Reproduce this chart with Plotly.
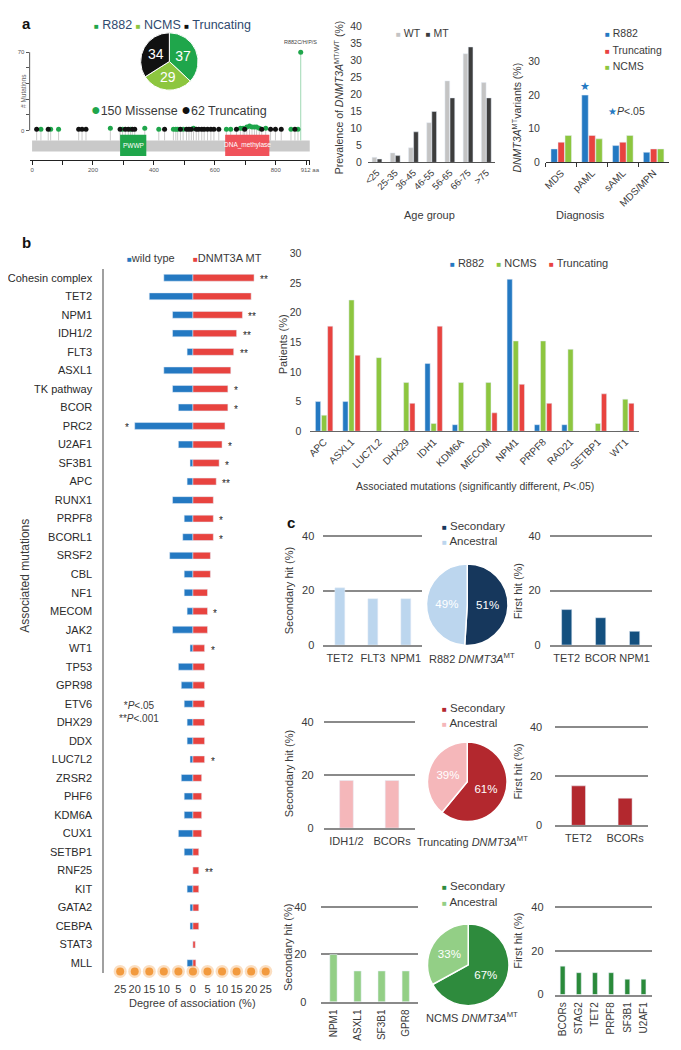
import plotly.graph_objects as go

# the page puts the figure 8 px in from the top-left corner, so the figure is sized to fit
OFF = 8
W, H = 681 - OFF, 1050 - OFF
FONT = "Liberation Sans, Arial, sans-serif"
TXT = "#3a3a3a"

# ---------------- data ----------------
# a: DNMT3A lollipop (amino-acid position, type, count)
lolli_pos = [15, 29, 53, 61, 87, 153, 164, 177, 257, 289, 297, 306, 316, 323, 329, 337, 370,
             416, 435, 464, 472, 478, 487, 496, 507, 515, 523, 530, 539, 547, 557, 565, 576,
             587, 597, 613, 638, 652, 671, 684, 693, 698, 705, 714, 722, 730, 737, 746, 754,
             767, 783, 799, 818, 850, 863, 873]
lolli_type = ["T", "M", "T", "M", "M", "T", "T", "T", "M", "T", "M", "T", "T", "M", "T", "T", "M",
              "M", "T", "M", "M", "M", "T", "M", "T", "T", "T", "M", "T", "T", "T", "T", "T",
              "T", "T", "T", "M", "M", "T", "M", "M", "T", "M", "M", "M", "M", "M", "M", "T",
              "M", "T", "T", "T", "M", "T", "M"]
lolli_count = [1, 1, 1, 1, 1, 1, 1, 1, 2, 1, 1, 1, 1, 1, 1, 1, 2,
               1, 1, 1, 1, 1, 1, 1, 1, 1, 1, 2, 1, 1, 1, 1, 1,
               1, 1, 1, 1, 1, 1, 2, 2, 1, 3, 4, 3, 3, 3, 2, 1,
               2, 1, 1, 1, 1, 1, 1]
r882_pos, r882_count = 882, 70
protein_len = 912
domain_names = ["PWWP", "DNA_methylase"]
domain_start = [289, 634]
domain_end = [375, 779]

pie_a_labels = ["R882", "NCMS", "Truncating"]
pie_a_values = [37, 29, 34]

age_groups = ["<25", "25-35", "36-45", "46-55", "56-65", "66-75", ">75"]
age_wt = [1.5, 2.8, 4.3, 11.7, 24.0, 32.0, 23.5]
age_mt = [1.0, 2.0, 9.0, 15.0, 19.0, 34.0, 19.0]

diagnoses = ["MDS", "pAML", "sAML", "MDS/MPN"]
diag_r882 = [4, 20, 5, 3]
diag_trunc = [6, 8, 6, 4]
diag_ncms = [8, 7, 8, 4]

# b: associated mutations, wild type vs DNMT3A MT (%)
assoc_genes = ["Cohesin complex", "TET2", "NPM1", "IDH1/2", "FLT3", "ASXL1", "TK pathway", "BCOR",
               "PRC2", "U2AF1", "SF3B1", "APC", "RUNX1", "PRPF8", "BCORL1", "SRSF2", "CBL", "NF1",
               "MECOM", "JAK2", "WT1", "TP53", "GPR98", "ETV6", "DHX29", "DDX", "LUC7L2", "ZRSR2",
               "PHF6", "KDM6A", "CUX1", "SETBP1", "RNF25", "KIT", "GATA2", "CEBPA", "STAT3", "MLL"]
assoc_wt = [10, 15, 7, 7, 2, 10, 7, 5, 20, 5, 1, 2, 7, 3, 3.5, 8, 3, 3, 2, 7, 1, 5, 4, 3, 2, 2, 1,
            4, 3, 3, 5, 3, 0, 2, 1, 1, 0, 2]
assoc_mt = [21, 20, 17, 15, 14, 13, 12, 12, 11, 10, 9, 8, 7, 7, 7, 6, 6, 5, 5, 5, 4, 4, 4, 4, 4, 4, 4,
            3, 3, 3, 3, 2, 2, 2, 2, 2, 0.8, 1]
assoc_sig = ["**", "", "**", "**", "**", "", "*", "*", "*", "*", "*", "**", "", "*", "*", "", "", "",
             "*", "", "*", "", "", "", "", "", "*", "", "", "", "", "", "**", "", "", "", "", ""]
degree_ticks = [-25, -20, -15, -10, -5, 0, 5, 10, 15, 20, 25]

sig_genes = ["APC", "ASXL1", "LUC7L2", "DHX29", "IDH1", "KDM6A", "MECOM", "NPM1", "PRPF8",
             "RAD21", "SETBP1", "WT1"]
sig_r882 = [5, 5, 0, 0, 11.4, 1.1, 0, 25.6, 1.1, 1.1, 0, 0]
sig_ncms = [2.7, 22.1, 12.4, 8.2, 1.3, 8.2, 8.2, 15.2, 15.2, 13.8, 1.3, 5.4]
sig_trunc = [17.7, 12.8, 0, 4.7, 17.7, 0, 3.1, 7.9, 4.7, 0, 6.3, 4.7]

# c: clonal hierarchy
r882_sec_genes, r882_sec = ["TET2", "FLT3", "NPM1"], [21, 17, 17]
r882_first_genes, r882_first = ["TET2", "BCOR", "NPM1"], [13, 10, 5]
r882_pie = [51, 49]
trunc_sec_genes, trunc_sec = ["IDH1/2", "BCORs"], [18, 18]
trunc_first_genes, trunc_first = ["TET2", "BCORs"], [16, 11]
trunc_pie = [61, 39]
ncms_sec_genes, ncms_sec = ["NPM1", "ASXL1", "SF3B1", "GPR8"], [20, 13, 13, 13]
ncms_first_genes, ncms_first = ["BCORs", "STAG2", "TET2", "PRPF8", "SF3B1", "U2AF1"], [13, 10, 10, 10, 7, 7]
ncms_pie = [67, 33]
clone_labels = ["Secondary", "Ancestral"]

# colours
G_R882 = "#1fa64b"
G_NCMS = "#8dc63f"
BLUE = "#2479c2"
RED = "#e8433f"
GRID = "#8a8a8a"


# page pixel -> paper fraction
def X(p):
    return (p - OFF) / W


def Y(p):
    return 1 - (p - OFF) / H


ann = []
shapes = []
axes = {}


def note(x, y, text, size=11, color=TXT, xanchor="center", yanchor="middle", angle=0):
    ann.append(dict(x=X(x), y=Y(y), xref="paper", yref="paper", text=text, showarrow=False,
                    font=dict(size=size, color=color, family=FONT), xanchor=xanchor,
                    yanchor=yanchor, textangle=angle))


def sq(color, size=8, sym="■"):
    return f'<span style="color:{color};font-size:{size}px">{sym}</span>'


fig = go.Figure()

# ---------------- a: lollipop ----------------
bar_lo, bar_hi = -18.9, -9.1
stem_x, stem_y = [], []
for p, c in zip(lolli_pos, lolli_count):
    stem_x += [p, p, None]
    stem_y += [bar_hi, c, None]
fig.add_trace(go.Scatter(x=stem_x, y=stem_y, mode="lines", line=dict(color="#bdbdbd", width=0.8),
                         xaxis="x", yaxis="y", hoverinfo="skip"))
fig.add_trace(go.Scatter(x=[r882_pos, r882_pos], y=[bar_hi, r882_count], mode="lines",
                         line=dict(color="#86cfa0", width=0.8), xaxis="x", yaxis="y"))
for kind, col in (("M", G_R882), ("T", "#111111")):
    xs = [p for p, t in zip(lolli_pos, lolli_type) if t == kind]
    ys = [c for c, t in zip(lolli_count, lolli_type) if t == kind]
    fig.add_trace(go.Scatter(x=xs, y=ys, mode="markers", marker=dict(color=col, size=5),
                             xaxis="x", yaxis="y"))
fig.add_trace(go.Scatter(x=[r882_pos], y=[r882_count], mode="markers",
                         marker=dict(color=G_R882, size=5), xaxis="x", yaxis="y"))
ann.append(dict(x=r882_pos, y=r882_count, xref="x", yref="y", yshift=10, text="R882C/H/P/S",
                showarrow=False, font=dict(size=5.5, color="#444", family=FONT)))

shapes.append(dict(type="rect", xref="x", yref="y", x0=0, x1=protein_len, y0=bar_lo, y1=bar_hi,
                   fillcolor="#c9c9c9", line=dict(width=0)))
for name, s, e, col in zip(domain_names, domain_start, domain_end, [G_R882, "#f0525a"]):
    shapes.append(dict(type="rect", xref="x", yref="y", x0=s, x1=e, y0=-23, y1=-3.8,
                       fillcolor=col, line=dict(width=0)))
    ann.append(dict(x=(s + e) / 2, y=-13.4, xref="x", yref="y", text=name, showarrow=False,
                    font=dict(size=6.5, color="white", family=FONT)))
shapes.append(dict(type="line", xref="paper", yref="y", x0=X(20), x1=X(20), y0=0, y1=70,
                   line=dict(color="#555", width=1)))

axes["xaxis"] = dict(domain=[X(20), X(308.8)], range=[-8, protein_len], anchor="y",
                     showline=True, linecolor="#222", linewidth=1, ticks="outside", ticklen=4,
                     tickcolor="#222", tickvals=list(range(0, 1000, 100)) + [protein_len],
                     ticktext=["0", "", "200", "", "400", "", "600", "", "800", "", "912 aa"],
                     tickfont=dict(size=6, color="#555"), showgrid=False, zeroline=False)
axes["yaxis"] = dict(domain=[Y(156.7), Y(40)], range=[-26.6, 76.8], anchor="x", showline=False,
                     ticks="outside", ticklen=3, tickcolor="#555",
                     tickvals=[0, 14, 28, 42, 56, 70], ticktext=["0", "", "", "", "", "70"],
                     tickfont=dict(size=6, color="#555"), showgrid=False, zeroline=False)

fig.add_trace(go.Pie(labels=pie_a_labels, values=pie_a_values, sort=False, direction="clockwise",
                     rotation=0, texttemplate="%{value}", textposition="inside",
                     insidetextorientation="horizontal",
                     textfont=dict(size=14, color="white", family=FONT),
                     marker=dict(colors=[G_R882, G_NCMS, "#111111"], line=dict(color="white", width=1)),
                     domain=dict(x=[X(134), X(194)], y=[Y(86), Y(28)])))

note(10, 8, "<b>a</b>", size=15, color="#111", xanchor="left", yanchor="top")
note(13, 87, "# Mutations", size=6.5, color="#666", angle=-90)
note(167, 20, f'{sq(G_R882)} R882 {sq(G_NCMS)} NCMS {sq("#111")} Truncating', size=12.5,
     color="#2f4a6e")
note(174, 106, f'{sq(G_R882, 16, "●")}150 Missense {sq("#111", 16, "●")}62 Truncating', size=12.5)

# ---------------- a: age groups ----------------
for vals, col, off in ((age_wt, "#c4c4c4", -0.27), (age_mt, "#3d3d3d", 0.01)):
    fig.add_trace(go.Bar(x=age_groups, y=vals, marker_color=col, width=0.26, offset=off,
                         xaxis="x2", yaxis="y2"))
axes["xaxis2"] = dict(domain=[X(368.6), X(500)], anchor="y2", type="category", showline=True,
                      linecolor="#555", ticks="", tickangle=-45, tickfont=dict(size=9.5),
                      showgrid=False)
axes["yaxis2"] = dict(domain=[Y(159), Y(20)], anchor="x2", range=[0, 40.5],
                      tickvals=list(range(0, 45, 5)), tickfont=dict(size=10.5), showgrid=False,
                      zeroline=False, ticklabelstandoff=5)
note(338, 93, "Prevalence of <i>DNMT3A</i><sup>MT/WT</sup> (%)", size=10.5, angle=-90)
note(425, 28, f'{sq("#c4c4c4")} WT  {sq("#3d3d3d")} MT', size=10.5)
note(432, 212, "Age group", size=11)

# ---------------- a: diagnosis ----------------
for i, (vals, col) in enumerate(((diag_r882, BLUE), (diag_trunc, RED), (diag_ncms, G_NCMS))):
    fig.add_trace(go.Bar(x=diagnoses, y=vals, marker_color=col, width=0.21,
                         offset=-0.333 + i * 0.228, xaxis="x3", yaxis="y3"))
axes["xaxis3"] = dict(domain=[X(552), X(679)], anchor="y3", type="category", showline=True,
                      linecolor="#333", ticks="outside", tickson="boundaries", ticklen=4,
                      tickcolor="#333", tickangle=-45, tickfont=dict(size=10), showgrid=False)
axes["yaxis3"] = dict(domain=[Y(159), Y(40)], anchor="x3", range=[0, 35], tickvals=[0, 10, 20, 30],
                      tickfont=dict(size=10.5), showgrid=False, zeroline=False, ticklabelstandoff=5)
ann.append(dict(x="pAML", y=diag_r882[1], xref="x3", yref="y3", xshift=-7.3, yanchor="bottom",
                yshift=1, text="★", showarrow=False, font=dict(size=11, color=BLUE)))
note(522, 114, "<i>DNMT3A</i><sup>MT</sup>variants (%)", size=10.5, angle=-90)
for k, (lab, col) in enumerate((("R882", BLUE), ("Truncating", RED), ("NCMS", G_NCMS))):
    note(611, 28 + 17 * k, f"{sq(col)} {lab}", size=10.5, xanchor="left")
note(614, 107, f'{sq(BLUE, 10, "★")}<i>P</i>&lt;.05', size=10.5, xanchor="left")
note(588, 212, "Diagnosis", size=11)

# ---------------- b: degree of association ----------------
idx = list(range(len(assoc_genes)))
fig.add_trace(go.Bar(y=idx, x=[-v for v in assoc_wt], orientation="h", marker_color=BLUE,
                     width=0.37, offset=-0.185, xaxis="x4", yaxis="y4"))
fig.add_trace(go.Bar(y=idx, x=assoc_mt, orientation="h", marker_color=RED,
                     width=0.37, offset=-0.185, xaxis="x4", yaxis="y4"))
for i, (w, m, s) in enumerate(zip(assoc_wt, assoc_mt, assoc_sig)):
    if not s:
        continue
    if m >= w:
        ann.append(dict(x=m, y=i, xref="x4", yref="y4", xanchor="left", xshift=4, yshift=-2,
                        text=s, showarrow=False, font=dict(size=10, color="#222222")))
    else:
        ann.append(dict(x=-w, y=i, xref="x4", yref="y4", xanchor="right", xshift=-4, yshift=-2,
                        text=s, showarrow=False, font=dict(size=10, color="#222222")))
dot_y = 37.45
fig.add_trace(go.Scatter(x=degree_ticks, y=[dot_y] * len(degree_ticks), mode="markers",
                         marker=dict(color="#f4a04a", size=13, opacity=0.35), cliponaxis=False,
                         xaxis="x4", yaxis="y4"))
fig.add_trace(go.Scatter(x=degree_ticks, y=[dot_y] * len(degree_ticks), mode="markers",
                         marker=dict(color="#f29a3e", size=8), cliponaxis=False,
                         xaxis="x4", yaxis="y4"))
axes["xaxis4"] = dict(domain=[X(97), X(290)], anchor="y4", range=[-30.43, 33.9],
                      tickvals=degree_ticks, ticktext=[str(abs(v)) for v in degree_ticks],
                      tickfont=dict(size=11), showline=False, zeroline=False, showgrid=False,
                      ticklabelstandoff=8)
axes["yaxis4"] = dict(domain=[Y(978), Y(267)], anchor="x4", range=[37.52, -0.46], tickvals=idx,
                      ticktext=assoc_genes, tickfont=dict(size=11, color="#2a2a2a"), showline=True,
                      linecolor="#a0a0a0", linewidth=2, showgrid=False, zeroline=False,
                      ticklabelstandoff=8)
note(10, 240, "<b>b</b>", size=15, color="#111", xanchor="left")
note(190, 256, f'{sq(BLUE)}wild type      {sq(RED)}DNMT3A MT', size=11)
note(15, 577, "Associated mutations", size=12, angle=-90)
note(110, 714, "*<i>P</i>&lt;.05<br>**<i>P</i>&lt;.001", size=10, xanchor="left")
note(188, 1009, "Degree of association (%)", size=11)

# ---------------- b: significantly different mutations ----------------
for i, (vals, col) in enumerate(((sig_r882, BLUE), (sig_ncms, G_NCMS), (sig_trunc, RED))):
    fig.add_trace(go.Bar(x=sig_genes, y=vals, marker_color=col, width=0.19,
                         offset=-0.318 + i * 0.223, xaxis="x5", yaxis="y5"))
axes["xaxis5"] = dict(domain=[X(309.4), X(648)], anchor="y5", type="category", showline=True,
                      linecolor="#666", ticks="", tickangle=-45, tickfont=dict(size=10),
                      showgrid=False)
axes["yaxis5"] = dict(domain=[Y(430.7), Y(245)], anchor="x5", range=[0, 30.95],
                      tickvals=list(range(0, 35, 5)), tickfont=dict(size=10.5), showgrid=False,
                      zeroline=False, ticklabelstandoff=8)
note(535, 261, f'{sq(BLUE)} R882    {sq(G_NCMS)} NCMS    {sq(RED)} Truncating', size=11)
note(282, 343, "Patients (%)", size=11, angle=-90)
note(479, 486, "Associated mutations (significantly different, <i>P</i>&lt;.05)", size=10.5)

# ---------------- c: clonal hierarchy ----------------
rows = [
    dict(sec_g=r882_sec_genes, sec=r882_sec, first_g=r882_first_genes, first=r882_first,
         pie=r882_pie, light="#bcd6ee", dark="#16375c", bar_dark="#14507f", name="R882",
         left=(322.7, 424.7, 646.7, 536.7, 8), right=(556, 661, 646.7, 536.7, 8), angle=0, fs=11,
         pie_c=(471, 606, 42), leg_y=526, cap_y=660),
    dict(sec_g=trunc_sec_genes, sec=trunc_sec, first_g=trunc_first_genes, first=trunc_first,
         pie=trunc_pie, light="#f5b7ba", dark="#b3282e", bar_dark="#b3282e", name="Truncating",
         left=(323, 417, 831.7, 725, 9), right=(561.7, 657.7, 829, 729.3, 12), angle=0, fs=11,
         pie_c=(471, 785, 41), leg_y=710, cap_y=845),
    dict(sec_g=ncms_sec_genes, sec=ncms_sec, first_g=ncms_first_genes, first=ncms_first,
         pie=ncms_pie, light="#93cf86", dark="#2e8b3d", bar_dark="#2a8a3a", name="NCMS",
         left=(320.7, 420, 1007.3, 911.7, 14), right=(561, 661, 1000, 911.7, 10), angle=-90, fs=10,
         pie_c=(472, 970, 42), leg_y=890, cap_y=1023),
]
n = 6
for r in rows:
    for genes, vals, col, (x0, x1, zero, forty, stand) in ((r["sec_g"], r["sec"], r["light"], r["left"]),
                                                           (r["first_g"], r["first"], r["bar_dark"], r["right"])):
        top = forty - 8
        fig.add_trace(go.Bar(x=genes, y=vals, marker_color=col, width=0.3, offset=-0.15,
                             xaxis=f"x{n}", yaxis=f"y{n}"))
        axes[f"xaxis{n}"] = dict(domain=[X(x0), X(x1)], anchor=f"y{n}", type="category",
                                 showline=True, linecolor=GRID, linewidth=1.5, showgrid=False,
                                 ticks="", tickangle=r["angle"], tickfont=dict(size=r["fs"]),
                                 ticklabelstandoff=2)
        axes[f"yaxis{n}"] = dict(domain=[Y(zero), Y(top)], anchor=f"x{n}",
                                 range=[0, 40 * (zero - top) / (zero - forty)], tickvals=[0, 20, 40],
                                 showgrid=True, gridcolor=GRID, gridwidth=1.5, zeroline=False,
                                 showline=False, tickfont=dict(size=11), ticklabelstandoff=stand)
        n += 1
    cx, cy, rad = r["pie_c"]
    fig.add_trace(go.Pie(labels=clone_labels, values=r["pie"], sort=False, direction="clockwise",
                         rotation=0, texttemplate="%{value}%", textposition="inside",
                         insidetextorientation="horizontal",
                         textfont=dict(size=11.5, color="white", family=FONT),
                         marker=dict(colors=[r["dark"], r["light"]], line=dict(color="white", width=1.5)),
                         domain=dict(x=[X(cx - rad), X(cx + rad)], y=[Y(cy + rad), Y(cy - rad)])))
    note(443, r["leg_y"], f'{sq(r["dark"])} Secondary', size=11.5, xanchor="left")
    note(443, r["leg_y"] + 16, f'{sq(r["light"])} Ancestral', size=11.5, xanchor="left")
    note(476, r["cap_y"], f'{r["name"]} <i>DNMT3A</i><sup>MT</sup>', size=11)
    zl, fl = r["left"][2], r["right"][2]
    note(287, zl - 55, "Secondary hit (%)", size=11, angle=-90)
    note(523, fl - 54, "First hit (%)", size=11, angle=-90)

note(283, 523, "<b>c</b>", size=15, color="#111", xanchor="left")

fig.update_layout(width=W, height=H, margin=dict(l=0, r=0, t=0, b=0), paper_bgcolor="white",
                  plot_bgcolor="white", showlegend=False, barmode="overlay",
                  font=dict(family=FONT, color=TXT, size=11), annotations=ann, shapes=shapes,
                  **axes)

fig.write_html("out.html")
